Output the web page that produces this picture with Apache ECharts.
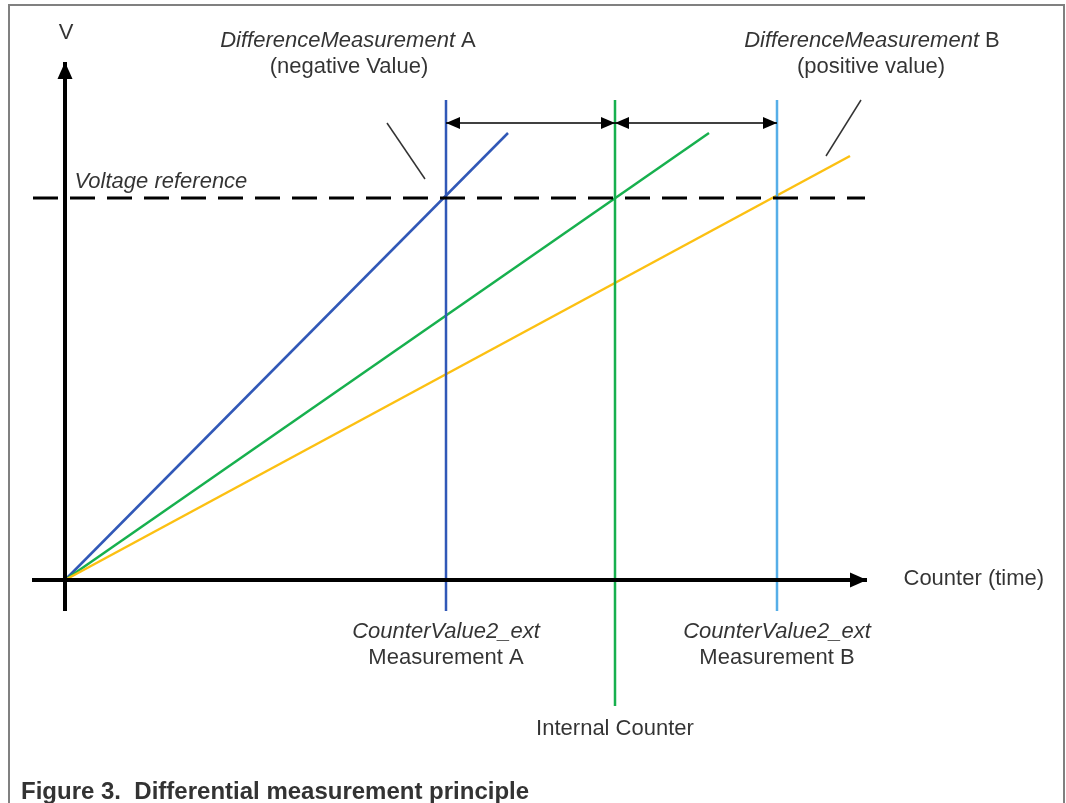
<!DOCTYPE html>
<html>
<head>
<meta charset="utf-8">
<title>Differential measurement principle</title>
<script src="https://cdn.jsdelivr.net/npm/echarts@6.0.0/dist/echarts.min.js"></script>
<style>
  html, body { margin: 0; padding: 0; background: #fff; }
  #chart { width: 1066px; height: 803px; }
</style>
</head>
<body>
<div id="chart"></div>
<script>
// Units: x = counter ticks, y = voltage (arbitrary)
const voltageRef = 38.2
const markerNames = ['Measurement A', 'Internal Counter', 'Measurement B']
const markerX = [38.1, 55.0, 71.2]
const markerTop = [48, 48, 48]
const markerBottom = [-3.1, -12.6, -3.1]
const rampEndX = [44.3, 64.4, 78.5]
const rampEndY = [44.7, 44.7, 42.4]
const arrowRowY = 45.7
const axisXRange = [-3.3, 80.2]
const axisYRange = [-3.1, 51.8]
const refLineRange = [-3.2, 80.0]
const leaderA = [[32.2, 45.7], [36.0, 40.1]]
const leaderB = [[79.6, 48.0], [76.1, 42.4]]

const FONT = 'Liberation Sans, Arial, sans-serif'
const TEXT_COLOR = '#000'
const rampColors = ['#3158b7', '#17b04e', '#fcc012']
const markerColors = ['#3158b7', '#17b04e', '#56aee8']

const chart = echarts.init(document.getElementById('chart'))

function segment(points, color, width, type) {
  return {
    type: 'line',
    data: points,
    symbol: 'none',
    silent: true,
    lineStyle: { color: color, width: width, type: type || 'solid' }
  }
}

// ramps from origin to their end points
const rampSeries = rampEndX.map((x, i) => segment([[0, 0], [x, rampEndY[i]]], rampColors[i], 2.5))

// vertical capture markers
const markerSeries = markerX.map((x, i) => segment([[x, markerTop[i]], [x, markerBottom[i]]], markerColors[i], 2.5))

// text labels (anchored in data coordinates)
const labels = [
  { name: 'V', value: [0.1, 54.7] },
  { name: '{i|DifferenceMeasurement} A', value: [28.3, 53.9] },
  { name: '(negative Value)', value: [28.4, 51.3] },
  { name: '{i|DifferenceMeasurement} B', value: [80.7, 53.9] },
  { name: '(positive value)', value: [80.6, 51.3] },
  { name: '{i|Voltage reference}', value: [0.9, voltageRef + 1.6], label: { position: 'right', distance: 0 } },
  { name: 'Counter (time)', value: [83.8, 0.1], label: { position: 'right', distance: 0 } },
  { name: '{i|CounterValue2_ext}', value: [markerX[0], -5.2] },
  { name: markerNames[0], value: [markerX[0], -7.8] },
  { name: '{i|CounterValue2_ext}', value: [markerX[2], -5.2] },
  { name: markerNames[2], value: [markerX[2], -7.8] },
  { name: markerNames[1], value: [markerX[1], -14.9] }
]

const option = {
  animation: false,
  backgroundColor: '#fff',
  title: {
    text: 'Figure 3.  Differential measurement principle',
    left: 21,
    top: 780,
    padding: 0,
    textStyle: { fontSize: 24, fontWeight: 'bold', color: '#333', fontFamily: FONT }
  },
  graphic: [
    {
      type: 'rect',
      silent: true,
      shape: { x: 9, y: 5, width: 1055, height: 830 },
      style: { fill: 'none', stroke: '#808080', lineWidth: 2 }
    }
  ],
  grid: { left: 15, top: 0, width: 1050, height: 800, outerBoundsMode: 'none' },
  xAxis: { type: 'value', min: -5, max: 100, show: false },
  yAxis: { type: 'value', min: -22, max: 58, show: false },
  series: [
    ...rampSeries,
    ...markerSeries,
    segment([[refLineRange[0], voltageRef], [refLineRange[1], voltageRef]], '#000', 3, [25, 12]),
    segment(leaderA, '#333', 1.5),
    segment(leaderB, '#333', 1.5),
    {
      // difference arrows between the markers
      type: 'line',
      data: [],
      silent: true,
      markLine: {
        silent: true,
        symbol: ['triangle', 'triangle'],
        symbolSize: [12, 14],
        symbolOffset: [[0, 7], [0, 7]],
        label: { show: false },
        lineStyle: { color: '#000', width: 1.5, type: 'solid' },
        emphasis: { disabled: true },
        data: [
          [{ coord: [markerX[0], arrowRowY] }, { coord: [markerX[1], arrowRowY] }],
          [{ coord: [markerX[1], arrowRowY] }, { coord: [markerX[2], arrowRowY] }]
        ]
      }
    },
    {
      // axes
      type: 'line',
      data: [],
      silent: true,
      markLine: {
        silent: true,
        symbol: ['none', 'triangle'],
        symbolSize: [15, 17],
        symbolOffset: [[0, 0], [0, 8.5]],
        label: { show: false },
        lineStyle: { color: '#000', width: 4, type: 'solid' },
        emphasis: { disabled: true },
        data: [
          [{ coord: [axisXRange[0], 0] }, { coord: [axisXRange[1], 0] }],
          [{ coord: [0, axisYRange[0]] }, { coord: [0, axisYRange[1]] }]
        ]
      }
    },
    {
      type: 'scatter',
      silent: true,
      symbolSize: 1,
      itemStyle: { color: 'rgba(0,0,0,0)' },
      label: {
        show: true,
        position: 'inside',
        formatter: '{b}',
        color: TEXT_COLOR,
        fontSize: 22,
        fontFamily: FONT,
        rich: {
          i: { fontStyle: 'italic', fontSize: 22, fontFamily: FONT, color: TEXT_COLOR }
        }
      },
      labelLayout: { hideOverlap: false },
      data: labels
    }
  ]
}

chart.setOption(option)
window.addEventListener('resize', () => chart.resize())
</script>
</body>
</html>
